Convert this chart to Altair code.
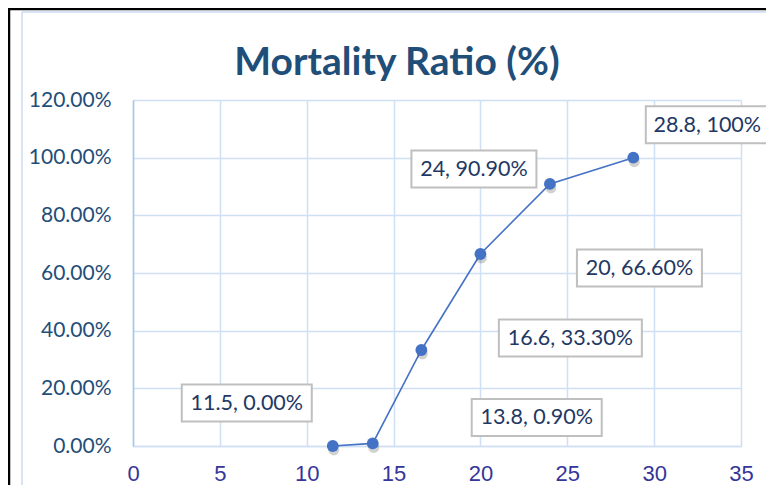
import altair as alt
import pandas as pd

# ---- data ----
temps = [11.5, 13.8, 16.6, 20, 24, 28.8]
mortality = [0.0, 0.009, 0.333, 0.666, 0.909, 1.0]
labels = ["11.5, 0.00%", "13.8, 0.90%", "16.6, 33.30%", "20, 66.60%", "24, 90.90%", "28.8, 100%"]
x_ticks = [0, 5, 10, 15, 20, 25, 30, 35]
y_ticks = [0.0, 0.2, 0.4, 0.6, 0.8, 1.0, 1.2]
title_text = "Mortality Ratio (%)"

# ---- styling: label box offsets (px from point) and box widths ----
label_style = [(-86, -43, 130), (164, -26, 130), (149, -12, 143),
               (159, 14, 125), (-76, -15, 125), (74, -33, 123)]
BOX_H = 37

BLUE = "#4472C4"
GRID = "#CFDFF4"
df = pd.DataFrame({"x": temps, "y": mortality, "label": labels, "i": list(range(len(temps)))})

xenc = alt.X("x:Q", scale=alt.Scale(domain=[0, 35], nice=False, zero=False),
             axis=alt.Axis(values=x_ticks, title=None, ticks=False, grid=True,
                           gridColor=GRID, gridWidth=1.5, domainColor=GRID, domainWidth=1.5,
                           labelFont="Liberation Sans", labelFontSize=22, labelColor="#35359A",
                           labelPadding=17, labelFlush=False))
yenc = alt.Y("y:Q", scale=alt.Scale(domain=[0, 1.2], nice=False),
             axis=alt.Axis(values=y_ticks, format=".2%", title=None, ticks=False, grid=True,
                           gridColor=GRID, gridWidth=1.5, domainColor="#A9C6EA", domainWidth=1.5,
                           labelFont="Lato", labelFontSize=21, labelColor="#1F4E79",
                           labelPadding=22))

base = alt.Chart(df)
line = base.mark_line(color=BLUE, strokeWidth=1.6).encode(x=xenc, y=yenc)
shadow = base.mark_circle(size=120, color="#000000", opacity=0.18, xOffset=1, yOffset=4).encode(
    x="x:Q", y="y:Q")
pts = base.mark_circle(size=140, color=BLUE, opacity=1).encode(x="x:Q", y="y:Q")

label_layers = []
for i, (dx, dy, w) in enumerate(label_style):
    h = BOX_H / w
    path = f"M-1,-{h:.4f}L1,-{h:.4f}L1,{h:.4f}L-1,{h:.4f}Z"
    sub = base.transform_filter(alt.datum.i == i)
    box = sub.mark_point(shape=path, size=w * w, filled=True, fill="white", stroke="#BFBFBF",
                         strokeWidth=2, opacity=1, xOffset=dx, yOffset=dy).encode(x="x:Q", y="y:Q")
    txt = sub.mark_text(font="Lato", fontSize=21.5, color="#1F3864", dx=dx, dy=dy + 1,
                        align="center", baseline="middle").encode(x="x:Q", y="y:Q", text="label:N")
    label_layers += [box, txt]

frame_df = pd.DataFrame({"k": [0]})
fr = alt.Chart(frame_df)
frame = [
    fr.mark_rule(color="#C9DBF2", strokeWidth=1.5).encode(x=alt.value(-111), y=alt.value(-88), y2=alt.value(400)),
    fr.mark_rule(color="#C9DBF2", strokeWidth=1.5).encode(x=alt.value(-111), x2=alt.value(637), y=alt.value(-88)),
    fr.mark_rule(color="#000000", strokeWidth=2.5).encode(x=alt.value(-124), y=alt.value(-91), y2=alt.value(400)),
    fr.mark_rule(color="#000000", strokeWidth=2.5).encode(x=alt.value(-125), x2=alt.value(641), y=alt.value(-91)),
]
title = fr.mark_text(font="Lato", fontSize=39, fontWeight="bold", color="#1F4E79",
                     align="center", baseline="alphabetic").encode(
    x=alt.value(264), y=alt.value(-25), text=alt.value(title_text))

chart = alt.layer(line, shadow, pts, *label_layers, *frame, title).properties(
    width=608, height=346,
    autosize=alt.AutoSizeParams(type="none"),
    padding={"left": 125, "top": 92, "right": 25, "bottom": 39},
    background="white",
).configure_view(stroke="transparent")

chart.save("out.html", embed_options={"renderer": "svg", "actions": False})
